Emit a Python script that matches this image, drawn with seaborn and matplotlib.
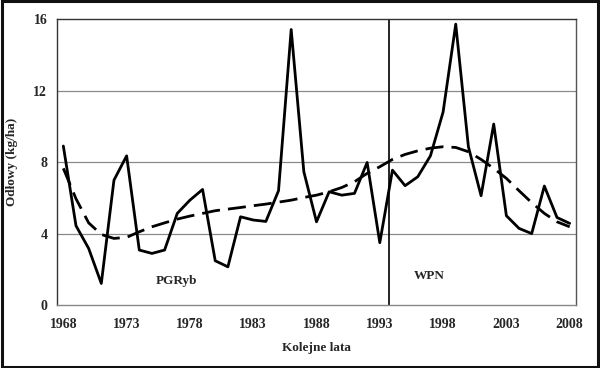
import matplotlib
matplotlib.use("Agg")
import matplotlib.pyplot as plt
import seaborn as sns
import pandas as pd
from matplotlib.patches import Rectangle

years = list(range(1968, 2009))
catch = [8.9, 4.44, 3.17, 1.21, 6.99, 8.35, 3.08, 2.89, 3.08, 5.13,
         5.87, 6.47, 2.48, 2.14, 4.94, 4.76, 4.68, 6.40, 15.42, 7.46,
         4.66, 6.34, 6.15, 6.25, 7.98, 3.49, 7.55, 6.68, 7.18, 8.35,
         10.8, 15.72, 8.86, 6.12, 10.13, 5.0, 4.29, 4.0, 6.66, 4.9, 4.57]
trend = [7.65, 5.95, 4.6, 3.95, 3.73, 3.79, 4.1, 4.38, 4.6, 4.81,
         4.98, 5.13, 5.28, 5.37, 5.46, 5.56, 5.65, 5.76, 5.87, 6.02,
         6.15, 6.34, 6.58, 6.9, 7.37, 7.74, 8.15, 8.43, 8.63, 8.78,
         8.86, 8.82, 8.58, 8.15, 7.65, 7.09, 6.4, 5.73, 5.13, 4.66, 4.38]
tick_years = [1968, 1973, 1978, 1983, 1988, 1993, 1998, 2003, 2008]
yticks = [0, 4, 8, 12, 16]
divider_year = 1993.75
period_labels = ["PGRyb", "WPN"]
period_x = [1976.9, 1996.9]
period_y = [1.34, 1.62]

df = pd.DataFrame({"Rok": years, "Odlowy": catch, "Trend": trend})

sns.set_style("white")
plt.rcParams["font.family"] = ["Liberation Serif", "DejaVu Serif"]
plt.rcParams["font.weight"] = "bold"

fig = plt.figure(figsize=(6.0, 3.68), dpi=100)
ax = fig.add_axes([0.095, 0.171, 0.865, 0.777])

for yv in yticks[1:-1]:
    ax.axhline(yv, color="#8a8a8a", lw=0.9, zorder=0)

sns.lineplot(data=df, x="Rok", y="Odlowy", ax=ax, color="black", lw=2.0, zorder=3)
sns.lineplot(data=df, x="Rok", y="Trend", ax=ax, color="black", lw=2.0,
             dashes=False, linestyle=(0, (6.5, 2.9)), zorder=3)
ax.axvline(divider_year, color="black", lw=1.2, zorder=2)

for t, xx, yy in zip(period_labels, period_x, period_y):
    ax.text(xx, yy, t, ha="center", va="center", fontsize=9.5, fontweight="bold")

ax.set_xlim(1967.5, 2008.5)
ax.set_ylim(0, 16)
ax.set_xticks(tick_years)
ax.set_xticks([y - 0.5 for y in years] + [2008.5], minor=True)
ax.set_yticks(yticks)
ax.tick_params(axis="x", which="major", length=0, pad=9, labelsize=10)
ax.tick_params(axis="x", which="minor", length=3, width=0.8, color="#888888", direction="out")
ax.tick_params(axis="y", which="major", length=3, width=0.8, color="#555555", pad=4, labelsize=10)
for lab in ax.get_xticklabels() + ax.get_yticklabels():
    lab.set_fontweight("bold")

ax.set_xlabel("Kolejne lata", fontsize=9.5, fontweight="bold", labelpad=8)
ax.set_ylabel("Odłowy (kg/ha)", fontsize=9.5, fontweight="bold", labelpad=11)

for s in ["left", "top", "right", "bottom"]:
    ax.spines[s].set_visible(True)
ax.spines["left"].set_color("#333333")
ax.spines["top"].set_color("#333333")
ax.spines["right"].set_color("#555555")
ax.spines["bottom"].set_color("#888888")
for s in ax.spines.values():
    s.set_linewidth(1.0)

fig.patches.append(Rectangle((0.003, 0.004), 0.994, 0.992, transform=fig.transFigure,
                             fill=False, edgecolor="#111111", lw=2.2))

fig.savefig("out.png", dpi=100)
